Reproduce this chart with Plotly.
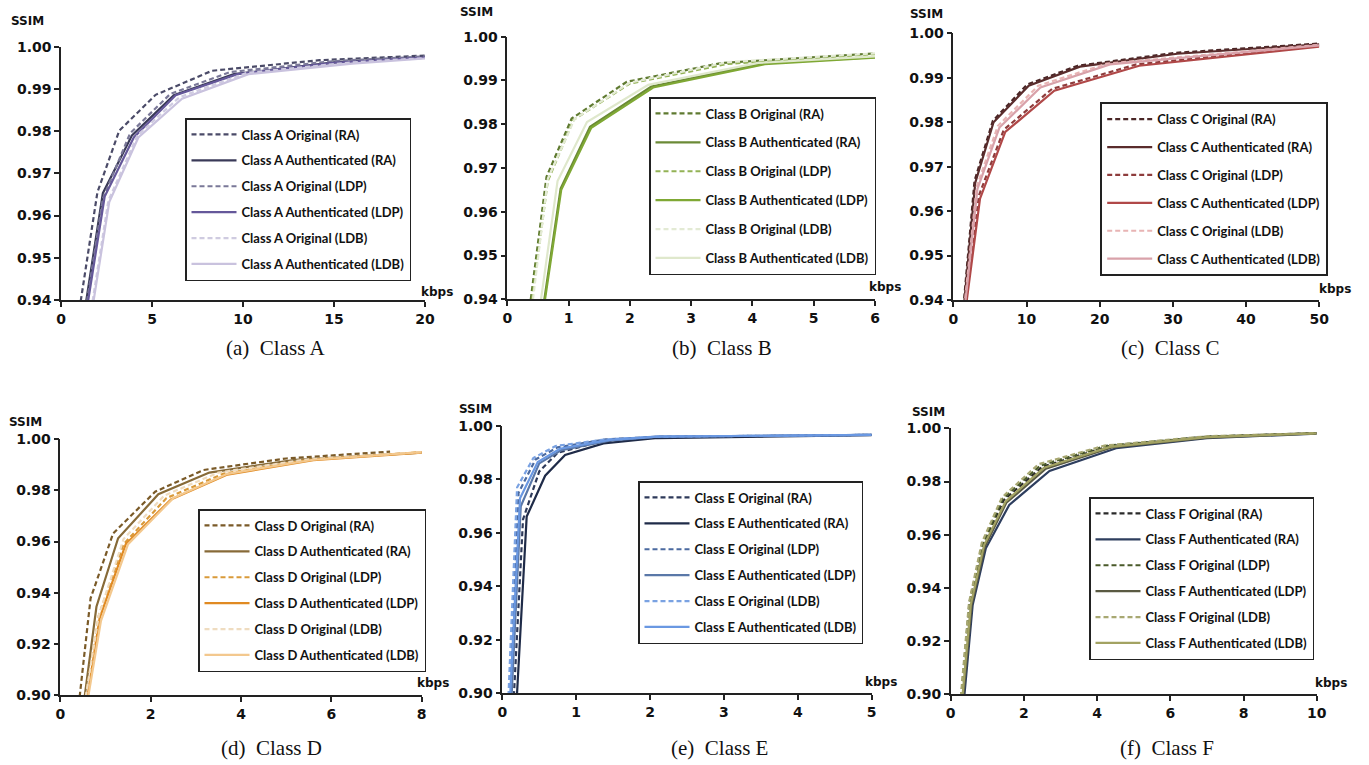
import plotly.graph_objects as go

W, H = 1369, 765

# ---------------- data ----------------
series_names = ["Original (RA)", "Authenticated (RA)", "Original (LDP)",
                "Authenticated (LDP)", "Original (LDB)", "Authenticated (LDB)"]

# Class A
a_x = [
    [0.95, 2.0, 3.2, 5.2, 8.3, 14.2, 20.0],
    [1.25, 2.3, 3.9, 6.2, 9.5, 15.0, 20.0],
    [1.3, 2.3, 3.8, 6.0, 9.3, 15.0, 20.0],
    [1.35, 2.4, 4.0, 6.3, 9.7, 15.0, 20.0],
    [1.6, 2.6, 4.2, 6.5, 10.2, 16.0, 20.0],
    [1.65, 2.65, 4.25, 6.65, 10.3, 16.0, 20.0],
]
a_y = [
    [0.936, 0.9655, 0.9801, 0.9886, 0.9943, 0.9968, 0.9979],
    [0.936, 0.9653, 0.9790, 0.9885, 0.9935, 0.9963, 0.9975],
    [0.936, 0.9640, 0.9795, 0.9888, 0.9940, 0.9966, 0.9977],
    [0.936, 0.9645, 0.9785, 0.9885, 0.9935, 0.9962, 0.9974],
    [0.936, 0.9635, 0.9790, 0.9880, 0.9938, 0.9963, 0.9973],
    [0.936, 0.9632, 0.9785, 0.9877, 0.9935, 0.9960, 0.9972],
]
# Class B
b_x = [
    [0.30, 0.64, 1.05, 1.95, 3.5, 6.0],
    [0.50, 0.87, 1.35, 2.35, 4.15, 6.0],
    [0.32, 0.66, 1.08, 2.0, 3.6, 6.0],
    [0.51, 0.88, 1.37, 2.38, 4.2, 6.0],
    [0.34, 0.66, 1.10, 2.0, 3.6, 6.0],
    [0.45, 0.82, 1.30, 2.3, 4.1, 6.0],
]
b_y = [
    [0.931, 0.9680, 0.9813, 0.9897, 0.9940, 0.9962],
    [0.930, 0.9653, 0.9794, 0.9886, 0.9939, 0.9953],
    [0.931, 0.9670, 0.9810, 0.9893, 0.9938, 0.9960],
    [0.930, 0.9650, 0.9792, 0.9884, 0.9937, 0.9952],
    [0.931, 0.9675, 0.9812, 0.9895, 0.9942, 0.9962],
    [0.930, 0.9670, 0.9805, 0.9890, 0.9940, 0.9955],
]
# Class C
c_x = [
    [1.2, 2.9, 5.4, 10.1, 17.0, 30.3, 50.0],
    [1.25, 3.0, 5.5, 10.3, 17.3, 30.6, 50.0],
    [1.4, 3.5, 6.9, 13.5, 25.0, 50.0],
    [1.45, 3.65, 7.1, 13.8, 25.4, 50.0],
    [1.3, 3.2, 6.1, 11.6, 21.0, 50.0],
    [1.35, 3.3, 6.3, 11.9, 21.4, 50.0],
]
c_y = [
    [0.935, 0.9668, 0.9803, 0.9885, 0.9927, 0.9956, 0.9977],
    [0.935, 0.9664, 0.9800, 0.9882, 0.9925, 0.9954, 0.9975],
    [0.935, 0.9635, 0.9783, 0.9875, 0.9930, 0.9972],
    [0.935, 0.9628, 0.9778, 0.9871, 0.9927, 0.9970],
    [0.935, 0.9655, 0.9792, 0.9882, 0.9932, 0.9974],
    [0.935, 0.9650, 0.9788, 0.9878, 0.9930, 0.9973],
]
# Class D
d_x = [
    [0.37, 0.67, 1.17, 2.10, 3.17, 5.0, 7.3],
    [0.47, 0.80, 1.28, 2.17, 3.3, 5.2, 8.0],
    [0.48, 0.85, 1.40, 2.35, 3.6, 5.5, 8.0],
    [0.52, 0.87, 1.45, 2.45, 3.7, 5.6, 8.0],
    [0.48, 0.85, 1.40, 2.30, 3.5, 5.4, 8.0],
    [0.53, 0.90, 1.50, 2.50, 3.7, 5.6, 8.0],
]
d_y = [
    [0.890, 0.9378, 0.9632, 0.9795, 0.9880, 0.9925, 0.9952],
    [0.890, 0.9345, 0.9613, 0.9785, 0.9870, 0.9920, 0.9948],
    [0.890, 0.9310, 0.9590, 0.9770, 0.9865, 0.9920, 0.9950],
    [0.890, 0.9300, 0.9590, 0.9765, 0.9862, 0.9918, 0.9948],
    [0.890, 0.9310, 0.9610, 0.9780, 0.9870, 0.9920, 0.9950],
    [0.890, 0.9290, 0.9590, 0.9770, 0.9865, 0.9920, 0.9950],
]
# Class E
e_x = [
    [0.14, 0.28, 0.50, 0.75, 1.30, 2.1, 5.0],
    [0.18, 0.33, 0.58, 0.85, 1.37, 2.1, 5.0],
    [0.09, 0.22, 0.45, 0.75, 1.40, 2.1, 5.0],
    [0.11, 0.25, 0.50, 0.80, 1.45, 2.1, 5.0],
    [0.07, 0.20, 0.42, 0.72, 1.40, 2.1, 5.0],
    [0.09, 0.24, 0.48, 0.78, 1.45, 2.1, 5.0],
]
e_y = [
    [0.890, 0.9650, 0.9830, 0.9900, 0.9940, 0.9958, 0.9967],
    [0.890, 0.9661, 0.9814, 0.9892, 0.9935, 0.9955, 0.9966],
    [0.890, 0.9750, 0.9875, 0.9920, 0.9950, 0.9960, 0.9967],
    [0.890, 0.9700, 0.9860, 0.9910, 0.9945, 0.9960, 0.9967],
    [0.890, 0.9770, 0.9880, 0.9925, 0.9950, 0.9960, 0.9967],
    [0.890, 0.9730, 0.9865, 0.9915, 0.9948, 0.9960, 0.9967],
]
# Class F
f_x = [
    [0.24, 0.52, 0.88, 1.45, 2.5, 4.3, 7.0, 10.0],
    [0.31, 0.60, 0.96, 1.60, 2.7, 4.52, 7.0, 10.0],
    [0.23, 0.51, 0.87, 1.42, 2.45, 4.25, 7.0, 10.0],
    [0.28, 0.57, 0.93, 1.52, 2.6, 4.4, 7.0, 10.0],
    [0.22, 0.50, 0.85, 1.40, 2.4, 4.2, 7.0, 10.0],
    [0.26, 0.55, 0.91, 1.50, 2.55, 4.35, 7.0, 10.0],
]
f_y = [
    [0.890, 0.9340, 0.9560, 0.9730, 0.9855, 0.9932, 0.9968, 0.9982],
    [0.890, 0.9336, 0.9549, 0.9712, 0.9840, 0.9925, 0.9963, 0.9980],
    [0.890, 0.9345, 0.9565, 0.9735, 0.9860, 0.9934, 0.9969, 0.9982],
    [0.890, 0.9335, 0.9555, 0.9720, 0.9848, 0.9928, 0.9965, 0.9981],
    [0.890, 0.9345, 0.9570, 0.9740, 0.9865, 0.9935, 0.9970, 0.9982],
    [0.890, 0.9338, 0.9560, 0.9725, 0.9852, 0.9930, 0.9967, 0.9981],
]

classes = ["A", "B", "C", "D", "E", "F"]
captions = ["(a)\u2002Class A", "(b)\u2002Class B", "(c)\u2002Class C",
            "(d)\u2002Class D", "(e)\u2002Class E", "(f)\u2002Class F"]
all_x = [a_x, b_x, c_x, d_x, e_x, f_x]
all_y = [a_y, b_y, c_y, d_y, e_y, f_y]
x_ranges = [[0, 20], [0, 6], [0, 50], [0, 8], [0, 5], [0, 10]]
x_dticks = [5, 1, 10, 2, 1, 2]
y_ranges = [[0.94, 1.0], [0.94, 1.0], [0.94, 1.0], [0.90, 1.0], [0.90, 1.0], [0.90, 1.0]]
y_dticks = [0.01, 0.01, 0.01, 0.02, 0.02, 0.02]

colors = [
    ["#4b4b68", "#3a3a58", "#7a7898", "#65589a", "#cfcbe0", "#c9c2de"],
    ["#5f7a30", "#6b8a36", "#93b255", "#7fa834", "#e3ead4", "#dfe8cc"],
    ["#4a2626", "#5a2c2c", "#8e3c3c", "#b04848", "#e8b4b4", "#d9a2aa"],
    ["#7a5a28", "#876a38", "#d99a3a", "#e08a22", "#efdcc0", "#f3c88e"],
    ["#2e3a5a", "#1f2b48", "#4b6aa0", "#5a78a8", "#7aa2e2", "#6a98e2"],
    ["#2a2a2a", "#2e3e5e", "#4a5a2a", "#5a5a42", "#a8a872", "#a2a262"],
]
dashes = ["5px,3px", "solid", "5px,3px", "solid", "5px,3px", "solid"]

# ---------------- layout geometry (pixels) ----------------
plot_px = [  # x0, x1, ytop, ybottom
    (61, 425, 46.7, 300),
    (507.3, 875, 36.7, 299.3),
    (953.3, 1319.3, 33.3, 300),
    (60.3, 421.7, 439.3, 695),
    (502.3, 871.7, 426, 693.3),
    (950.7, 1316.7, 428.3, 694.3),
]
legend_px = [(185, 118), (649, 97), (1100, 102), (198, 509), (638, 481), (1089, 497)]
legend_bw = [1.5, 1.5, 2.2, 1.5, 1.5, 1.5]
legend_gap = [6, 9, 8, 6, 6, 6]
caption_px = [(275, 348), (722, 348), (1170, 348), (271, 748), (719, 748), (1167, 748)]
ssim_px = [(9, 21), (458, 12), (908, 14), (7, 422), (457, 409), (910, 412)]
kbps_px = [(419, 292), (867, 287), (1317, 289), (415, 683), (863, 682), (1313, 683)]

px = lambda v: v / W
py = lambda v: 1 - v / H

fig = go.Figure()
layout = dict(width=W, height=H, margin=dict(l=0, r=0, t=0, b=0, autoexpand=False),
              paper_bgcolor="white", plot_bgcolor="white", showlegend=True,
              annotations=[])

axis_font = dict(family="DejaVu Sans", size=14, color="#111", weight="bold")
legend_font = dict(family="Liberation Sans Narrow, Lato, sans-serif", size=13,
                   color="#111", weight="bold")

for k in range(6):
    ax = "" if k == 0 else str(k + 1)
    lg = "legend" if k == 0 else f"legend{k + 1}"
    for i in range(6):
        fig.add_trace(go.Scatter(
            x=all_x[k][i], y=all_y[k][i], mode="lines",
            name=f"Class {classes[k]} {series_names[i]}",
            line=dict(color=colors[k][i], width=2.2, dash=dashes[i]),
            xaxis="x" + ax, yaxis="y" + ax, legend=lg,
            legendgroup=f"{classes[k]}{i}",
        ))
    x0, x1, yt, yb = plot_px[k]
    common = dict(showgrid=False, zeroline=False, showline=True, linecolor="#222",
                  linewidth=1.5, ticks="outside", ticklen=5, tickwidth=1.5,
                  tickcolor="#222", tickfont=axis_font, automargin=False)
    layout["xaxis" + ax] = dict(domain=[px(x0), px(x1)], range=x_ranges[k],
                                dtick=x_dticks[k], tick0=0,
                                anchor="y" + ax, **common)
    layout["yaxis" + ax] = dict(domain=[py(yb), py(yt)], range=y_ranges[k],
                                dtick=y_dticks[k], tick0=0, tickformat=".2f",
                                anchor="x" + ax, **common)
    lx, ly = legend_px[k]
    layout[lg] = dict(x=px(lx), y=py(ly), xanchor="left", yanchor="top",
                      xref="paper", yref="paper",
                      bordercolor="#222", borderwidth=legend_bw[k],
                      bgcolor="white", font=legend_font, itemwidth=45,
                      tracegroupgap=legend_gap[k], traceorder="grouped")
    cx, cy = caption_px[k]
    layout["annotations"].append(dict(
        x=px(cx), y=py(cy), xref="paper", yref="paper", text=captions[k],
        showarrow=False, xanchor="center", yanchor="middle",
        font=dict(family="Liberation Serif", size=21, color="#111")))
    sx, sy = ssim_px[k]
    layout["annotations"].append(dict(
        x=px(sx), y=py(sy), xref="paper", yref="paper", text="SSIM",
        showarrow=False, xanchor="left", yanchor="middle",
        font=dict(family="DejaVu Sans", size=12, color="#111", weight="bold")))
    kx, ky = kbps_px[k]
    layout["annotations"].append(dict(
        x=px(kx), y=py(ky), xref="paper", yref="paper", text="kbps",
        showarrow=False, xanchor="left", yanchor="middle",
        font=dict(family="DejaVu Sans", size=12, color="#111", weight="bold")))

fig.update_layout(**layout)
fig.write_html("out.html", config={"displayModeBar": False},
               post_script="document.body.style.margin='0';"
                           "document.documentElement.style.overflow='hidden';")
